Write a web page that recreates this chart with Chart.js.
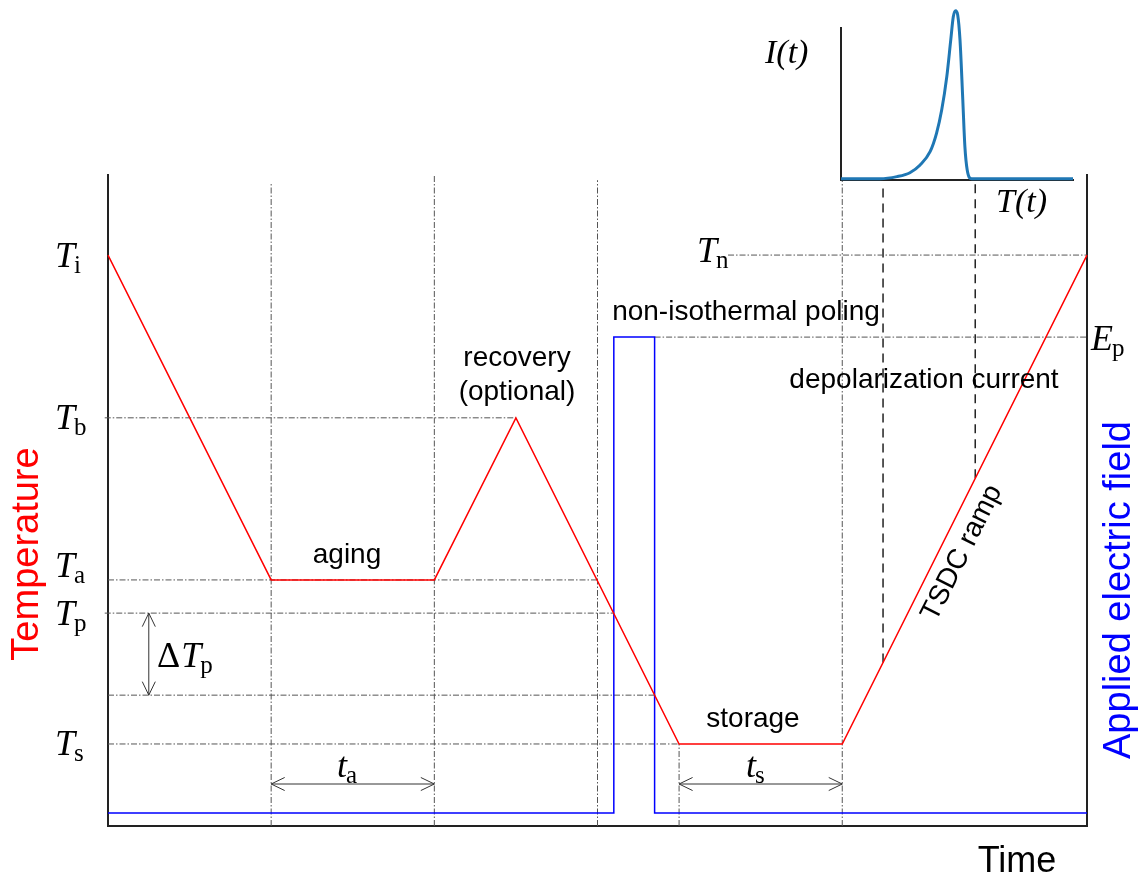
<!DOCTYPE html>
<html>
<head>
<meta charset="utf-8">
<script src="https://cdn.jsdelivr.net/npm/chart.js@4.4.0/dist/chart.umd.min.js"></script>
<style>
  body { margin: 0; background: #fff; }
  #wrap { position: relative; width: 1145px; height: 876px; }
  canvas { position: absolute; left: 0; top: 0; }
</style>
</head>
<body>
<div id="wrap">
  <canvas id="main" width="1145" height="876"></canvas>
  <canvas id="inset" width="1145" height="876"></canvas>
</div>
<script>
// temperature program (schematic time units, schematic temperature units)
const stageTimes = [0, 2, 4, 5, 7, 9, 12];
const tempValues = [87.7, 37.8, 37.8, 62.7, 12.6, 12.6, 87.7];

// applied electric field (poling pulse)
const fieldTimes = [0, 6.2, 6.2, 6.7, 6.7, 12];
const fieldValues = [2, 2, 75.1, 75.1, 2, 2];

// dash-dot guide lines
const hRefY    = [87.7, 75.1, 62.7, 37.8, 32.7, 20.1, 12.6];
const hRefFrom = [7.6, 6.7, -0.04, 0, -0.04, 0, 0];
const hRefTo   = [12, 12, 5, 6, 6.2, 6.7, 7];
const vRefX    = [2, 4, 6, 7, 9];
const vRefTo   = [98.8, 100, 99.2, 12.6, 99.2];

// dashed lines linking the ramp to the current peak
const peakX    = [9.5, 10.63];
const peakFrom = [25.1, 53.4];
const peakTo   = [98.8, 98.8];

// double arrows: [x0, y0, x1, y1]
const arrows = [
  [2, 6.45, 4, 6.45],
  [7, 6.45, 9, 6.45],
  [0.5, 32.7, 0.5, 20.1]
];

// inset: depolarization current vs temperature
const insetT = [0, 16.8, 24.1, 29.7, 34.1, 38.4, 41.2, 43.4, 45.6, 47.3, 48.4, 49.4, 50.3, 51.3, 52.5, 53.4, 54.4, 56.3, 100];
const insetI = [0.8, 0.8, 2.2, 4.8, 9.9, 18.6, 30.9, 46, 68, 92, 107.4, 111.4, 108.6, 92, 52.6, 21.9, 6.6, 0.8, 0.8];

function pts(xs, ys) {
  return xs.map((x, i) => ({ x: x, y: ys[i] }));
}

const datasets = [];
datasets.push({ data: pts(stageTimes, tempValues), borderColor: '#ff0000', borderWidth: 1.5 });
datasets.push({ data: pts(fieldTimes, fieldValues), borderColor: '#0000ff', borderWidth: 1.5 });
hRefY.forEach((y, i) => {
  datasets.push({ data: [{ x: hRefFrom[i], y: y }, { x: hRefTo[i], y: y }],
    borderColor: '#555', borderWidth: 1, borderDash: [6, 2, 1.5, 2] });
});
vRefX.forEach((x, i) => {
  datasets.push({ data: [{ x: x, y: 0 }, { x: x, y: vRefTo[i] }],
    borderColor: '#555', borderWidth: 1, borderDash: [6, 2, 1.5, 2] });
});
peakX.forEach((x, i) => {
  datasets.push({ data: [{ x: x, y: peakFrom[i] }, { x: x, y: peakTo[i] }],
    borderColor: '#222', borderWidth: 1.5, borderDash: [9, 6] });
});
datasets.forEach(d => { d.pointRadius = 0; d.clip = false; d.tension = 0; });

function mathLabel(ctx, x, y, pre, main, sub, size) {
  ctx.fillStyle = '#000';
  ctx.textBaseline = 'alphabetic';
  ctx.textAlign = 'left';
  if (pre) {
    ctx.font = size + 'px "Liberation Serif"';
    ctx.fillText(pre, x, y);
    x += ctx.measureText(pre).width + 1;
  }
  ctx.font = 'italic ' + size + 'px "Liberation Serif"';
  ctx.fillText(main, x, y);
  x += ctx.measureText(main).width - 1;
  if (sub) {
    ctx.font = Math.round(size * 0.7) + 'px "Liberation Serif"';
    ctx.fillText(sub, x, y + 6);
  }
}

function drawArrow(ctx, x0, y0, x1, y1) {
  const a = Math.atan2(y1 - y0, x1 - x0);
  const len = 15, half = 0.45;
  ctx.beginPath();
  ctx.moveTo(x0, y0);
  ctx.lineTo(x1, y1);
  [[x0, y0, a], [x1, y1, a + Math.PI]].forEach(([x, y, d]) => {
    ctx.moveTo(x + len * Math.cos(d + half), y + len * Math.sin(d + half));
    ctx.lineTo(x, y);
    ctx.lineTo(x + len * Math.cos(d - half), y + len * Math.sin(d - half));
  });
  ctx.stroke();
}

function sansText(ctx, text, x, y, size, color, angle) {
  ctx.save();
  ctx.translate(x, y);
  if (angle) ctx.rotate(angle);
  ctx.font = size + 'px "Liberation Sans"';
  ctx.fillStyle = color || '#000';
  ctx.textAlign = 'center';
  ctx.textBaseline = angle ? 'middle' : 'alphabetic';
  ctx.fillText(text, 0, 0);
  ctx.restore();
}

const annotations = {
  id: 'annotations',
  afterDatasetsDraw(chart) {
    const ctx = chart.ctx;
    const xs = chart.scales.x, ys = chart.scales.y;
    ctx.save();
    ctx.strokeStyle = '#333';
    ctx.lineWidth = 1;
    arrows.forEach(a => {
      drawArrow(ctx, xs.getPixelForValue(a[0]), ys.getPixelForValue(a[1]),
        xs.getPixelForValue(a[2]), ys.getPixelForValue(a[3]));
    });

    // level labels on the left
    mathLabel(ctx, 55, ys.getPixelForValue(hRefY[0]) + 12, '', 'T', 'i', 36);
    mathLabel(ctx, 55, ys.getPixelForValue(hRefY[2]) + 11, '', 'T', 'b', 36);
    mathLabel(ctx, 55, ys.getPixelForValue(hRefY[3]) - 3, '', 'T', 'a', 36);
    mathLabel(ctx, 55, ys.getPixelForValue(hRefY[4]) + 12, '', 'T', 'p', 36);
    mathLabel(ctx, 55, ys.getPixelForValue(hRefY[6]) + 11, '', 'T', 's', 36);
    mathLabel(ctx, 157, 667, '\u0394', 'T', 'p', 36);
    mathLabel(ctx, 697, ys.getPixelForValue(hRefY[0]) + 7, '', 'T', 'n', 36);
    mathLabel(ctx, 1091, ys.getPixelForValue(hRefY[1]) + 13, '', 'E', 'p', 36);
    mathLabel(ctx, 337, 777, '', 't', 'a', 36);
    mathLabel(ctx, 746, 777, '', 't', 's', 36);

    // inset labels
    ctx.font = 'italic 34px "Liberation Serif"';
    ctx.fillStyle = '#000';
    ctx.textAlign = 'left';
    ctx.fillText('I(t)', 765, 63);
    ctx.fillText('T(t)', 996, 212);

    // stage labels
    sansText(ctx, 'aging', 347, 563, 28);
    sansText(ctx, 'recovery', 517, 366, 28);
    sansText(ctx, '(optional)', 517, 400, 28);
    sansText(ctx, 'non-isothermal poling', 746, 320, 28);
    sansText(ctx, 'depolarization current', 924, 388, 28);
    sansText(ctx, 'storage', 753, 727, 28);
    sansText(ctx, 'TSDC ramp', 962, 553, 28, '#000', -Math.atan(1.99));

    // axis titles
    sansText(ctx, 'Temperature', 28, 554, 38, '#ff0000', -Math.PI / 2);
    sansText(ctx, 'Applied electric field', 1120, 590, 38, '#0000ff', -Math.PI / 2);
    sansText(ctx, 'Time', 1017, 872, 36);
    ctx.restore();
  }
};

const axisBorder = { display: true, color: '#222', width: 2 };
const hidden = { display: false };
const noGrid = { display: false, drawTicks: false };

new Chart(document.getElementById('main'), {
  type: 'line',
  data: { datasets: datasets },
  options: {
    responsive: false,
    animation: false,
    events: [],
    layout: { padding: { left: 108, top: 175, right: 58, bottom: 50 } },
    plugins: { legend: hidden, tooltip: { enabled: false } },
    scales: {
      x: { type: 'linear', min: 0, max: 12, border: axisBorder, grid: noGrid, ticks: hidden },
      y: { type: 'linear', min: 0, max: 100, border: axisBorder, grid: noGrid, ticks: hidden },
      y2: { type: 'linear', position: 'right', display: true, min: 0, max: 100, border: axisBorder, grid: noGrid, ticks: hidden }
    }
  },
  plugins: [annotations]
});

new Chart(document.getElementById('inset'), {
  type: 'line',
  data: {
    datasets: [{
      data: pts(insetT, insetI),
      borderColor: '#1f77b4',
      borderWidth: 3,
      pointRadius: 0,
      cubicInterpolationMode: 'monotone',
      clip: false
    }]
  },
  options: {
    responsive: false,
    animation: false,
    events: [],
    layout: { padding: { left: 841, top: 28, right: 72, bottom: 696 } },
    plugins: { legend: hidden, tooltip: { enabled: false } },
    scales: {
      x: { type: 'linear', min: 0, max: 100, border: axisBorder, grid: noGrid, ticks: hidden },
      y: { type: 'linear', min: 0, max: 100, border: axisBorder, grid: noGrid, ticks: hidden }
    }
  }
});
</script>
</body>
</html>
